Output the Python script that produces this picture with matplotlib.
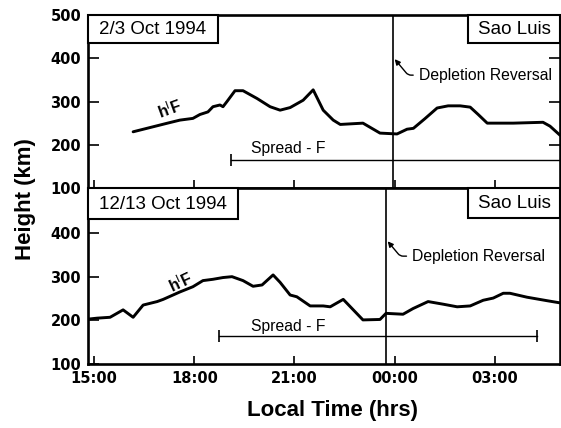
import matplotlib
matplotlib.use("Agg")
import matplotlib.pyplot as plt
from matplotlib.patches import Rectangle

# ---------------- data ----------------
# time in hours from 00:00 of the first day (values > 24 are after midnight)
top_t = [16.17, 17.2, 17.57, 17.96, 18.17, 18.41, 18.56, 18.77, 18.86, 18.98, 19.22, 19.46,
         19.88, 20.27, 20.57, 20.87, 21.26, 21.56, 21.86, 22.16, 22.37, 23.05, 23.56, 24.07,
         24.37, 24.56, 24.9, 25.27, 25.6, 25.96, 26.26, 26.5, 26.77, 27.55, 28.44, 28.65, 28.95]
top_h = [230, 250, 257, 261, 270, 276, 288, 292, 288, 300, 325, 325,
         307, 288, 280, 286, 303, 327, 280, 257, 247, 250, 227, 225,
         236, 238, 260, 285, 290, 290, 287, 270, 250, 250, 252, 243, 222]

bot_t = [14.85, 15.09, 15.48, 15.87, 16.17, 16.47, 16.89, 17.07, 17.57, 17.96, 18.26, 18.56,
         18.86, 19.13, 19.46, 19.76, 20.03, 20.36, 20.57, 20.87, 21.07, 21.47, 21.86, 22.07,
         22.46, 23.05, 23.56, 23.74, 24.25, 24.55, 25.0, 25.45, 25.87, 26.26, 26.65, 26.95,
         27.25, 27.45, 27.96, 28.56, 28.95]
bot_h = [203, 205, 207, 224, 207, 235, 243, 248, 265, 277, 291, 294,
         298, 300, 291, 278, 281, 304, 287, 258, 254, 233, 233, 231,
         248, 201, 202, 216, 214, 227, 243, 237, 231, 233, 246, 251,
         262, 262, 253, 245, 240]

top_spread = [19.1, 29.2]      # start, end (runs past right edge)
top_spread_h = 165
bot_spread = [18.74, 28.26]
bot_spread_h = 164
top_depletion = 23.95
bot_depletion = 23.74

xtick_pos = [15, 18, 21, 24, 27]
xtick_labels = ["15:00", "18:00", "21:00", "00:00", "03:00"]
top_yticks = [100, 200, 300, 400, 500]
bot_yticks = [100, 200, 300, 400]

dates = ["2/3 Oct 1994", "12/13 Oct 1994"]
station = "Sao Luis"

# ---------------- figure ----------------
fig = plt.figure(figsize=(5.61, 4.28), dpi=100)
ax1 = fig.add_axes([0.1569, 0.5607, 0.8414, 0.4042])
ax2 = fig.add_axes([0.1569, 0.1495, 0.8414, 0.4112])

XL = (14.82, 28.95)
TICKFONT = dict(family="DejaVu Sans", weight="bold", size=10.5)
lw_spine = 1.9

for ax in (ax1, ax2):
    ax.set_xlim(*XL)
    for s in ax.spines.values():
        s.set_linewidth(lw_spine)
    ax.set_xticks(xtick_pos)
    ax.tick_params(axis="both", direction="in", width=1.2, colors="black")
    ax.tick_params(axis="y", length=8, pad=5)
    ax.tick_params(axis="x", length=6, pad=5)

ax1.set_ylim(100, 500)
ax2.set_ylim(100, 503)
ax1.set_yticks(top_yticks)
ax1.set_yticklabels([str(v) for v in top_yticks], **TICKFONT)
ax2.set_yticks(bot_yticks)
ax2.set_yticklabels([str(v) for v in bot_yticks], **TICKFONT)
ax1.tick_params(axis="y", right=True)
ax1.tick_params(axis="y", which="major", labelright=False)
ax1.set_xticklabels([])
ax2.set_xticklabels(xtick_labels, **TICKFONT)

# curves
ax1.plot(top_t, top_h, color="black", lw=2.1, solid_capstyle="round", solid_joinstyle="round")
ax2.plot(bot_t, bot_h, color="black", lw=2.1, solid_capstyle="round", solid_joinstyle="round")

# spread-F bars
ax1.plot(top_spread, [top_spread_h] * 2, color="black", lw=1.0)
ax1.plot([top_spread[0]], [top_spread_h], marker="|", ms=9, mew=1.2, color="black")
ax2.plot(bot_spread, [bot_spread_h] * 2, color="black", lw=1.0)
ax2.plot(bot_spread, [bot_spread_h] * 2, ls="none", marker="|", ms=9, mew=1.2, color="black")
ax1.text(20.81, 192, "Spread - F", ha="center", va="center", fontsize=11.3,
         family="Liberation Sans")
ax2.text(20.81, 187, "Spread - F", ha="center", va="center", fontsize=11.3,
         family="Liberation Sans")

# depletion reversal lines
ax1.axvline(top_depletion, color="black", lw=1.2)
ax2.axvline(bot_depletion, color="black", lw=1.2)
arrow = dict(arrowstyle="-|>", color="black", lw=1.0, mutation_scale=8,
             connectionstyle="angle,angleA=0,angleB=-50,rad=3", shrinkA=2, shrinkB=0)
ax1.annotate("Depletion Reversal", xy=(top_depletion + 0.05, 398), xytext=(24.72, 361),
             ha="left", va="center", fontsize=11.3, family="Liberation Sans",
             arrowprops=arrow)
ax2.annotate("Depletion Reversal", xy=(bot_depletion + 0.05, 381), xytext=(24.52, 347),
             ha="left", va="center", fontsize=11.3, family="Liberation Sans",
             arrowprops=arrow)

# h'F labels
ax1.text(17.28, 283, "h$^{\\mathsf{I}}$F", ha="center", va="center", rotation=20,
         fontsize=11.5, family="Liberation Sans", weight="bold")
ax2.text(17.6, 287, "h$^{\\mathsf{I}}$F", ha="center", va="center", rotation=25,
         fontsize=11.5, family="Liberation Sans", weight="bold")

# boxes with date / station
def box(ax, x0, x1, y0, y1, text):
    r = Rectangle((x0, y0), x1 - x0, y1 - y0, transform=ax.transAxes,
                  facecolor="white", edgecolor="black", lw=1.5, zorder=5, clip_on=False)
    ax.add_patch(r)
    ax.text((x0 + x1) / 2, (y0 + y1) / 2 - 0.005, text, transform=ax.transAxes,
            ha="center", va="center", fontsize=13.5, family="Liberation Sans", zorder=6)

box(ax1, 0.0, 0.275, 0.838, 1.0, dates[0])
box(ax1, 0.805, 1.0, 0.838, 1.0, station)
box(ax2, 0.0, 0.318, 0.824, 1.0, dates[1])
box(ax2, 0.805, 1.0, 0.830, 1.0, station)

# axis labels
fig.text(0.045, 0.535, "Height (km)", rotation=90, ha="center", va="center",
         fontsize=16, family="Liberation Sans", weight="bold")
fig.text(0.592, 0.042, "Local Time (hrs)", ha="center", va="center",
         fontsize=16, family="Liberation Sans", weight="bold")

fig.savefig("out.png", dpi=100)
